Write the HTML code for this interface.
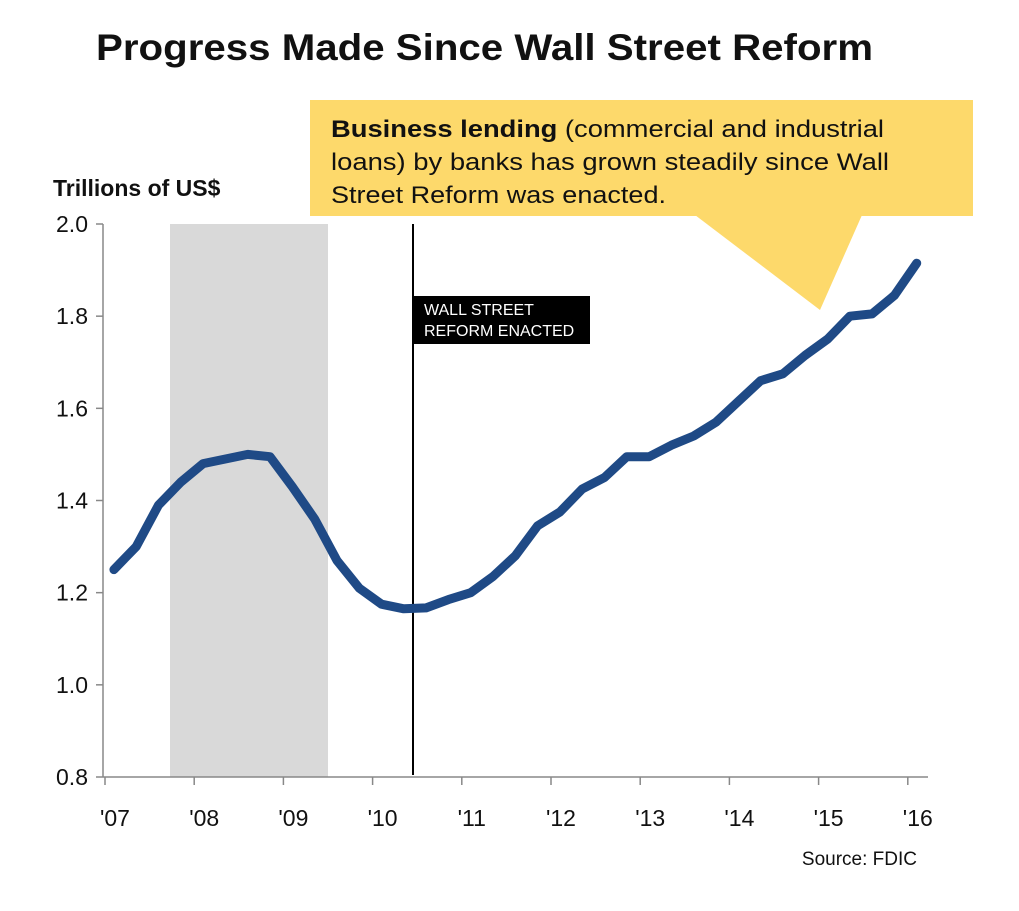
<!DOCTYPE html>
<html><head><meta charset="utf-8"><style>
body{margin:0;background:#fff;width:1019px;height:906px;overflow:hidden}
svg text{font-family:"Liberation Sans","DejaVu Sans",sans-serif}
</style></head><body>
<svg id="chart" width="1019" height="906">
<text x="96" y="60" font-size="37" font-weight="bold" fill="#111" textLength="777" lengthAdjust="spacingAndGlyphs">Progress Made Since Wall Street Reform</text>
<g>
<rect x="310" y="100" width="663" height="116" fill="#FDD96B"/>
<polygon points="695,215 862,215 820,310" fill="#FDD96B"/>
<text x="331" y="137" font-size="24" fill="#111" textLength="553" lengthAdjust="spacingAndGlyphs"><tspan font-weight="bold">Business lending</tspan> (commercial and industrial</text>
<text x="331" y="170" font-size="24" fill="#111" textLength="558" lengthAdjust="spacingAndGlyphs">loans) by banks has grown steadily since Wall</text>
<text x="331" y="203" font-size="24" fill="#111" textLength="335" lengthAdjust="spacingAndGlyphs">Street Reform was enacted.</text>
</g>
<text x="53" y="196" font-size="23" font-weight="bold" fill="#111">Trillions of US$</text>
<rect x="170" y="224" width="158" height="553" fill="#d9d9d9"/>
<g id="axes"></g>
<line x1="413" y1="224" x2="413" y2="775" stroke="#000" stroke-width="2"/>
<rect x="413" y="296" width="177" height="48" fill="#000"/>
<text x="424" y="315" font-size="16" fill="#fff">WALL STREET</text>
<text x="424" y="336" font-size="16" fill="#fff">REFORM ENACTED</text>
<path id="line" fill="none" stroke="#1F4A86" stroke-width="9" stroke-linejoin="round" stroke-linecap="round"/>
<text x="917" y="865" font-size="19" fill="#111" text-anchor="end">Source: FDIC</text>
</svg>
<script>
const values=[1.25,1.30,1.39,1.44,1.48,1.49,1.50,1.495,1.43,1.36,1.27,1.21,1.175,1.165,1.167,1.185,1.20,1.235,1.28,1.345,1.375,1.425,1.45,1.495,1.495,1.52,1.54,1.57,1.615,1.66,1.675,1.715,1.75,1.80,1.805,1.845,1.915];
const startYear=2007.1;
const yTicks=[0.8,1.0,1.2,1.4,1.6,1.8,2.0];
const xTickLabels=["'07","'08","'09","'10","'11","'12","'13","'14","'15","'16"];
const xTickYears=[2007,2008,2009,2010,2011,2012,2013,2014,2015,2016];
function xs(y){return 105+(y-2007)*89.2;}
function ys(v){return 777-(v-0.8)/1.2*553;}
const NS="http://www.w3.org/2000/svg";
const ax=document.getElementById('axes');
function el(t,a){const e=document.createElementNS(NS,t);for(const k in a)e.setAttribute(k,a[k]);ax.appendChild(e);return e;}
let e=el('line',{x1:103,y1:224,x2:103,y2:777,stroke:'#888','stroke-width':1.5});


e=el('line',{x1:103,y1:777,x2:928,y2:777,stroke:'#888','stroke-width':1.5});


yTicks.forEach(v=>{
 el('line',{x1:96,y1:ys(v),x2:103,y2:ys(v),stroke:'#888','stroke-width':1.5});
 const t=el('text',{x:88,y:ys(v)+8,'font-size':23,'text-anchor':'end',fill:'#111'});
 t.textContent=v.toFixed(1);
 
 
});
xTickYears.forEach((yr,i)=>{
 el('line',{x1:xs(yr),y1:777,x2:xs(yr),y2:785,stroke:'#888','stroke-width':1.5});
 const t=el('text',{x:xs(yr)+10,y:826,'font-size':23,'text-anchor':'middle',fill:'#111'});
 t.textContent=xTickLabels[i];
 
 
});
document.getElementById('line').setAttribute('d',values.map((v,i)=>(i?'L':'M')+xs(startYear+i*0.25).toFixed(1)+','+ys(v).toFixed(1)).join(' '));
</script>
</body></html>
